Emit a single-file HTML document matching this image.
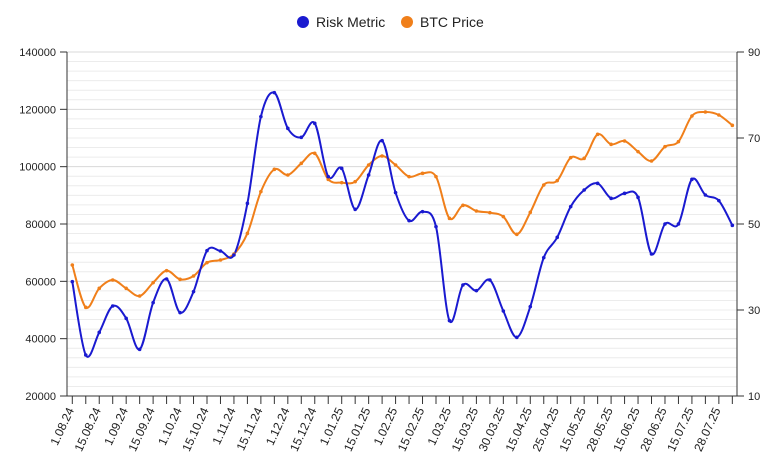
<!DOCTYPE html>
<html><head><meta charset="utf-8"><style>
body{margin:0;background:#fff;}
svg{display:block;font-family:"Liberation Sans",Arial,sans-serif;}
</style></head><body>
<svg id="s" width="781" height="475" xmlns="http://www.w3.org/2000/svg">
<rect width="781" height="475" fill="#fff"/>
<g id="grid"></g>
<g id="axes" stroke="#333" stroke-width="1"></g>
<g id="lbl" font-size="11" fill="#222"></g>
<path id="po" fill="none" stroke="#f07f1a" stroke-width="2"/>
<path id="pb" fill="none" stroke="#1a1ad0" stroke-width="2"/>
<g id="mk"></g>
<circle cx="303" cy="22" r="6" fill="#1a1ad0"/>
<text x="316" y="27" font-size="14" fill="#222">Risk Metric</text>
<circle cx="407" cy="22" r="6" fill="#f07f1a"/>
<text x="420" y="27" font-size="14" fill="#222">BTC Price</text>
</svg>
<script>
var NS="http://www.w3.org/2000/svg";
function el(p,t,a,txt){var e=document.createElementNS(NS,t);for(var k in a)e.setAttribute(k,a[k]);if(txt!=null)e.textContent=txt;document.getElementById(p).appendChild(e);return e;}
var L=67,R=737,T=52,B=396;
for(var i=0;i<=36;i++){var y=T+(B-T)*i/36;el("grid","line",{x1:L,x2:R,y1:y,y2:y,stroke:i%6==0?"#d8d8d8":"#ececec","stroke-width":1});}
el("axes","line",{x1:L,x2:L,y1:T,y2:B});
el("axes","line",{x1:R,x2:R,y1:T,y2:B});
el("axes","line",{x1:L,x2:R,y1:B,y2:B});
var lv=[140000,120000,100000,80000,60000,40000,20000];
for(var i=0;i<7;i++){var y=T+(B-T)*i/6;el("axes","line",{x1:L-7,x2:L,y1:y,y2:y});el("lbl","text",{x:56,y:y+4,"text-anchor":"end"},lv[i]);}
var rv=[90,70,50,30,10];
for(var i=0;i<5;i++){var y=T+(B-T)*i/4;el("axes","line",{x1:R,x2:R+7,y1:y,y2:y});el("lbl","text",{x:748,y:y+4},rv[i]);}
var dx=13.47,x0=72.3;
for(var i=0;i<50;i++){var x=x0+i*dx;el("axes","line",{x1:x,x2:x,y1:B,y2:B+8});}
var labs=["1.08.24","15.08.24","1.09.24","15.09.24","1.10.24","15.10.24","1.11.24","15.11.24","1.12.24","15.12.24","1.01.25","15.01.25","1.02.25","15.02.25","1.03.25","15.03.25","30.03.25","15.04.25","25.04.25","15.05.25","28.05.25","15.06.25","28.06.25","15.07.25","28.07.25"];
for(var i=0;i<25;i++){var x=x0+2*i*dx;el("lbl","text",{x:0,y:0,"text-anchor":"end",transform:"translate("+(x+2)+","+(B+14)+") rotate(-65)","font-size":"12"},labs[i]);}
var b1=[605,825,757,678,715,808,668,597,698,635,512,513,525,370,110,38,145,172,130,290,265,388,285,182,338];
var o1=[555,682,625,600,625,648,608,572,598,588,548,540,522,460,335,268,285,250,220,298,308,305,255,228,255];
var b2=[422,395,440,722,615,632,600,693,772,680,533,472,380,330,310,355,340,352,522,432,432,298,345,362,436];
var o2=[290,280,290,415,376,393,398,410,463,397,315,302,233,235,163,193,183,215,243,200,185,108,96,105,136];
function pts(a,b){var r=[];for(var i=0;i<25;i++)r.push([x0+i*dx,80+a[i]/3]);for(var i=0;i<25;i++)r.push([x0+(25+i)*dx,80+b[i]/3]);return r;}
function path(p){var d="M"+p[0][0]+","+p[0][1];for(var i=0;i<p.length-1;i++){var p0=p[Math.max(0,i-1)],p1=p[i],p2=p[i+1],p3=p[Math.min(p.length-1,i+2)];var c1=[p1[0]+(p2[0]-p0[0])/6,p1[1]+(p2[1]-p0[1])/6],c2=[p2[0]-(p3[0]-p1[0])/6,p2[1]-(p3[1]-p1[1])/6];d+="C"+c1+" "+c2+" "+p2;}return d;}
var B_=pts(b1,b2),O_=pts(o1,o2);
document.getElementById("pb").setAttribute("d",path(B_));
document.getElementById("po").setAttribute("d",path(O_));
O_.forEach(function(p){el("mk","circle",{cx:p[0],cy:p[1],r:1.8,fill:"#f07f1a"});});
B_.forEach(function(p){el("mk","circle",{cx:p[0],cy:p[1],r:1.8,fill:"#1a1ad0"});});
</script>
</body></html>
